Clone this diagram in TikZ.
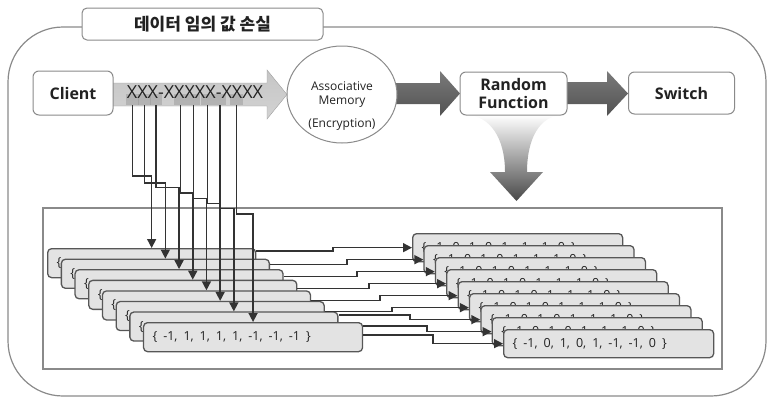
\documentclass[tikz,border=0pt]{standalone}
\usepackage{fontspec}
\setmainfont{Open Sans}
\newfontfamily\krfont{Noto Sans CJK KR}
\usetikzlibrary{arrows.meta,shapes.geometric}

\definecolor{framegray}{HTML}{8A8A8A}
\definecolor{boxgray}{HTML}{E3E3E3}
\definecolor{edgegray}{HTML}{575757}
\definecolor{linegray}{HTML}{333333}
\definecolor{inkgray}{HTML}{222222}

\newcommand{\leftvals}{\spaceskip=6pt\relax\{ -1, 1, 1, 1, 1, -1, -1, -1 \}}
\newcommand{\rightvals}{\spaceskip=6pt\relax\{ -1, 0, 1, 0, 1, -1, -1, 0 \}}

\begin{document}
\begin{tikzpicture}[x=1pt,y=-1pt,text=inkgray]
\useasboundingbox (0,0) rectangle (770,399);

\draw[framegray,line width=1.2pt,rounded corners=55pt] (8,27) rectangle (766,396);
\draw[framegray,line width=1.2pt] (43,208) rectangle (722,369);
\node[draw=framegray,fill=white,rounded corners=5pt,line width=1pt,
      minimum width=241pt,minimum height=32pt,
      font=\krfont\bfseries\fontsize{17}{19}\selectfont] (title) at (202.5,24) {데이터 임의 값 손실};

\shade[top color=white,bottom color=black!72]
    (467,115) .. controls (490,116) and (505,138) .. (505,172) -- (490,172) -- (516.5,201)
    -- (543,172) -- (527,172) .. controls (527,138) and (540,116) .. (562,115) -- cycle;
\shade[draw=gray!75,top color=gray!45,middle color=white,bottom color=gray!35]
    (110,83) -- (267,83) -- (267,70) -- (287,94.5) -- (267,119) -- (267,106) -- (110,106) -- cycle;
\shade[top color=black!52,bottom color=black!68]
    (390,83) -- (440,83) -- (440,71) -- (460,93.5) -- (440,116) -- (440,104) -- (390,104) -- cycle;
\shade[top color=black!52,bottom color=black!68]
    (565,82) -- (607,82) -- (607,71) -- (628,93.5) -- (607,116) -- (607,104) -- (565,104) -- cycle;

\begin{scope}[every node/.style={draw=framegray,fill=white,rounded corners=6pt,line width=1pt,
              align=center,font=\bfseries\fontsize{16}{18}\selectfont}]
    \node[minimum width=80pt,minimum height=44pt] (client) at (73,93) {Client};
    \node[minimum width=107pt,minimum height=43pt] (random) at (513.5,93.5) {Random\\Function};
    \node[minimum width=106pt,minimum height=42pt] (switch) at (681.5,93) {Switch};
    \node[ellipse,minimum width=110pt,minimum height=97pt,inner sep=0pt,
          label={[yshift=-12pt,align=center,font=\fontsize{12}{14}\selectfont]center:Associative\\Memory\\[9pt](Encryption)}]
          (memory) at (342,94.5) {};
\end{scope}

\begin{scope}[every node/.style={fill=black!40,opacity=0.5,minimum width=12.5pt,minimum height=11pt,inner sep=0pt}]
    \node (t1) at (132.7,99.5) {};
    \node (t2) at (144.3,99.5) {};
    \node (t3) at (156,99.5) {};
    \node (t4) at (180.7,99.5) {};
    \node (t5) at (193.3,99.5) {};
    \node (t6) at (207.3,99.5) {};
    \node (t7) at (220,99.5) {};
    \node (t8) at (236.7,99.5) {};
\end{scope}
\node[font=\fontsize{18}{20}\selectfont,inner sep=0pt] (key) at (195,92) {XXX-XXXXX-XXXX};

\begin{scope}[every node/.style={draw=edgegray,fill=boxgray,rounded corners=4pt,line width=1.3pt,
              anchor=north west,minimum height=29pt,inner xsep=9pt,text width=190pt,align=left,
              font=\fontsize{12.5}{14}\selectfont}]
    \node (l1) at (47,248) {\{};
    \node (l2) at (60.7,258.6) {\{};
    \node (l3) at (74.4,269.1) {\{};
    \node (l4) at (88.1,279.7) {\{};
    \node (l5) at (101.8,290.3) {\{};
    \node (l6) at (115.5,300.9) {\{};
    \node (l7) at (129.2,311.4) {\{};
    \node[text width=201pt] (l8) at (142.9,322) {\leftvals};
\end{scope}

\begin{scope}[every node/.style={draw=edgegray,fill=boxgray,rounded corners=4pt,line width=1.3pt,
              anchor=north west,minimum height=28pt,inner xsep=9pt,text width=192pt,align=left,
              font=\fontsize{12.5}{14}\selectfont}]
    \node (r1) at (412,233) {\rightvals};
    \node (r2) at (423.4,245) {\rightvals};
    \node (r3) at (434.8,257) {\rightvals};
    \node (r4) at (446.1,269) {\rightvals};
    \node (r5) at (457.5,281) {\rightvals};
    \node (r6) at (468.9,293) {\rightvals};
    \node (r7) at (480.3,305) {\rightvals};
    \node (r8) at (491.6,317) {\rightvals};
    \node (r9) at (503,329) {\rightvals};
\end{scope}

\begin{scope}[every path/.style={draw=linegray,line width=1.5pt,-{Triangle[length=9pt,width=9pt]}}]
    \path (t1.south) -- ++(0,71) -| (l1.north);
    \path (t2.south) -- ++(0,77.7) -| (l2.north);
    \path (t3.south) -- ++(0,82.3) -| (l3.north);
    \path (t4.south) -- ++(0,87.7) -| (l4.north);
    \path (t5.south) -- ++(0,93.3) -| (l5.north);
    \path (t6.south) -- ++(0,98.3) -| (l6.north);
    \path (t7.south) -- ++(0,103.3) -| (l7.north);
    \path (t8.south) -- ++(0,109) -| (l8.north);
    \path ([yshift=-3pt]l1.north east) -| ([xshift=-79pt]r1.west) -- (r1.west);
    \path ([yshift=-5.7pt]l2.north east) -| ([xshift=-76.4pt]r2.west) -- (r2.west);
    \path ([yshift=-7.6pt]l3.north east) -| ([xshift=-77.8pt]r3.west) -- (r3.west);
    \path ([yshift=-8.6pt]l4.north east) -| ([xshift=-77.1pt]r4.west) -- (r4.west);
    \path ([yshift=-10.4pt]l5.north east) -| ([xshift=-77.5pt]r5.west) -- (r5.west);
    \path ([yshift=-10.8pt]l6.north east) -| ([xshift=-76.9pt]r6.west) -- (r6.west);
    \path ([yshift=-3.6pt]l7.north east) -| ([xshift=-70.3pt]r7.west) -- (r7.west);
    \path ([yshift=-4pt]l8.north east) -| ([xshift=-64.6pt]r8.west) -- (r8.west);
    \path ([yshift=-13pt]l8.north east) -| ([xshift=-70pt]r9.west) -- (r9.west);
\end{scope}
\end{tikzpicture}
\end{document}
